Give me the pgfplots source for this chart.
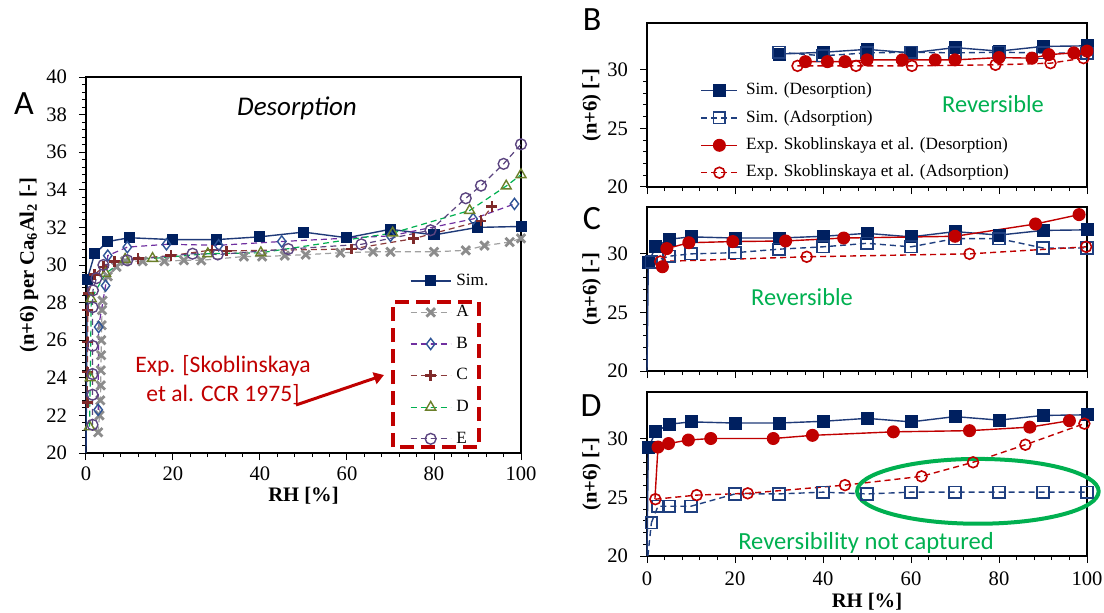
\documentclass[border=0pt]{standalone}
\usepackage{pgfplots}
\pgfplotsset{compat=1.18}
\usepackage{pgfplotstable}
\usepackage{fontspec}
\setmainfont{Liberation Serif}
\newfontfamily\calibri{Carlito}
\usetikzlibrary{arrows.meta}

\definecolor{navy}{HTML}{002060}
\definecolor{navyline}{HTML}{1F3A78}
\definecolor{openblue}{HTML}{1F3F7F}
\definecolor{expred}{HTML}{C00000}
\definecolor{mkA}{HTML}{8C8C8C}
\definecolor{lnA}{HTML}{A0A0A0}
\definecolor{mkB}{HTML}{2F5597}
\definecolor{lnB}{HTML}{7030A0}
\definecolor{mkC}{HTML}{7F2A2A}
\definecolor{lnC}{HTML}{8B3A3A}
\definecolor{mkD}{HTML}{6B7F2A}
\definecolor{lnD}{HTML}{00B050}
\definecolor{mkE}{HTML}{5C4580}
\definecolor{lnE}{HTML}{5C4580}
\definecolor{anngreen}{HTML}{00B050}

% ---------- data ----------
\pgfplotstableread{
x y
0.3 29.25
2 30.6
5 31.25
10 31.45
20 31.35
30 31.35
40 31.5
50 31.75
60 31.45
70 31.9
80 31.6
90 32.0
100 32.05
}\simdes

\pgfplotstableread{
x y
0 20
0.3 29.25
}\simdesfoot

\pgfplotstableread{
x y
30 31.35
40 31.5
50 31.75
60 31.45
70 31.9
80 31.6
90 32.0
100 32.05
}\simdesB

\pgfplotstableread{
x y
2.8 21.1
3.1 22.0
3.3 22.8
3.4 23.6
3.4 24.4
3.5 25.2
3.5 26.0
3.6 26.8
3.7 27.6
3.8 28.1
5 29.4
7 29.9
9 30.2
13 30.2
18 30.2
22.5 30.25
26.5 30.25
36.3 30.45
40.5 30.45
45.7 30.5
50.5 30.55
58.5 30.65
66 30.7
70 30.7
80 30.7
87.3 30.78
91.6 31.03
97.4 31.22
100 31.42
}\serA

\pgfplotstableread{
x y
2.8 22.3
2.9 26.7
4.5 28.9
5 30.5
9.5 30.95
18.5 31.1
30.5 31.05
45 31.25
70 31.55
89 32.45
98.5 33.25
}\serB

\pgfplotstableread{
x y
0.3 22.7
0.3 24.3
0.4 25.9
0.4 27.6
0.5 28.5
2 29.5
4 29.9
6.5 30.2
12 30.35
19.5 30.5
29 30.8
32.3 30.75
61 30.85
75.3 31.4
90.8 32.35
93.3 33.1
}\serC

\pgfplotstableread{
x y
0.8 21.4
1.0 24.0
1.2 28.2
4.5 29.55
9 30.3
15.3 30.35
28 30.6
40.2 30.65
70.5 31.7
88.2 32.9
96.6 34.2
100 34.8
}\serD

\pgfplotstableread{
x y
1.5 21.5
1.5 23.1
1.5 24.2
1.5 25.7
1.5 27.75
1.6 28.65
2.4 29.3
4 30.0
9.5 30.25
24.5 30.6
30.3 30.56
46.5 30.85
63.3 31.1
79.2 31.85
87.3 33.55
90.8 34.22
96 35.38
100 36.42
}\serE

\pgfplotstableread{
x y
30 31.5
40 31.2
50 31.45
60 31.5
70 31.45
80 31.5
90 31.45
100 31.4
}\simadsB

\pgfplotstableread{
x y
36 30.7
41 30.7
45 30.7
50 30.85
58 30.85
65.5 30.85
70 30.85
80 31.05
87.5 31.0
91.3 31.3
97 31.45
100 31.6
}\expdesB

\pgfplotstableread{
x y
34.2 30.34
47.5 30.34
60.2 30.34
79.2 30.43
91.7 30.57
99.2 31.0
}\expadsB

\pgfplotstableread{
x y
1 29.3
5 29.8
10 30.0
20 30.1
30 30.4
40 30.6
50 30.9
60 30.6
70 31.3
80 31.3
90 30.5
100 30.5
}\simadsC

\pgfplotstableread{
x y
3.5 28.9
4.5 30.45
9.5 30.95
19.5 31.05
31.5 31.1
44.7 31.35
70 31.5
88.3 32.55
98.2 33.35
}\expdesC

\pgfplotstableread{
x y
3 29.35
36.3 29.75
73.3 30.0
99.8 30.6
}\expadsC

\pgfplotstableread{
x y
1 22.85
2.5 24.25
5 24.25
10 24.25
20 25.3
30 25.3
40 25.45
50 25.3
60 25.45
70 25.45
80 25.45
90 25.45
100 25.45
}\simadsD

\pgfplotstableread{
x y
0.2 20
1 22.85
}\simadsDfoot

\pgfplotstableread{
x y
2.5 29.3
4.9 29.6
9.4 29.9
14.5 30.03
28.7 30.03
37.6 30.3
56 30.6
73.3 30.7
87 31.0
96 31.55
}\expdesD

\pgfplotstableread{
x y
1.8 24.85
2.5 29.3
}\expdesDfoot

\pgfplotstableread{
x y
1.9 24.85
11.3 25.2
22.9 25.35
45 26.05
62.4 26.8
74.1 28.0
86 29.5
99.4 31.3
}\expadsD

% ---------- styles ----------
\pgfplotsset{
  panel/.style={
    scale only axis, clip=false,
    xmin=0, xmax=100, xtick={0,20,...,100}, minor x tick num=4,
    axis line style={black, line width=0.6pt},
    tick style={black, line width=0.5pt},
    tick align=outside, xtick pos=lower, ytick pos=left,
    major tick length=3.5pt, minor tick length=2pt,
    tick label style={font=\fontsize{10.3}{12}\selectfont},
    yticklabel style={xshift=-2.5pt},
    /pgf/number format/assume math mode=true,
    legend style={draw=none, fill=none, inner sep=0pt, outer sep=0pt,
      font=\fontsize{8.6}{10}\selectfont, cells={anchor=west},
      nodes={inner sep=0pt, text height=6pt, text depth=1.8pt}},
  },
  smallpanel/.style={panel, width=220pt, height=82pt,
    ymin=20, ymax=34, ytick={20,25,30}, minor y tick num=4,
    every axis y label/.style={at={(rel axis cs:-0.1257,0.5)}, rotate=90, anchor=center, font=\fontsize{10.3}{12}\selectfont},
    ylabel={\textbf{(n+6) [-]}}},
  simdesS/.style={navyline, line width=0.7pt, solid, mark=square*, mark size=2.9pt, mark options={fill=navy, draw=navy, solid}},
  simadsS/.style={openblue, line width=0.7pt, dash pattern=on 3pt off 2pt, mark=square, mark size=2.9pt, mark options={fill=white, draw=openblue, solid, line width=0.8pt}},
  expdesS/.style={expred, line width=0.7pt, solid, mark=*, mark size=2.9pt, mark options={fill=expred, draw=expred, solid}},
  expadsS/.style={expred, line width=0.7pt, dash pattern=on 3pt off 2pt, mark=o, mark size=2.7pt, mark options={fill=white, draw=expred, solid, line width=0.8pt}},
}

\begin{document}
\begin{tikzpicture}
\useasboundingbox (0,0) rectangle (552pt,306pt);

% ================= Panel A =================
\begin{axis}[panel,
  at={(43pt,79.5pt)}, anchor=south west, width=217.5pt, height=188pt,
  ymin=20, ymax=40, ytick={20,22,...,40}, minor y tick num=4,
  xlabel={\textbf{RH [\%]}},
  ylabel={\textbf{(n+6) per Ca\textsubscript{6}Al\textsubscript{2} [-]}},
  every axis x label/.style={at={(rel axis cs:0.5,-0.1144)}, anchor=center, font=\fontsize{10.3}{12}\selectfont},
  every axis y label/.style={at={(rel axis cs:-0.131,0.5)}, rotate=90, anchor=center, font=\fontsize{10.3}{12}\selectfont},
  legend image code/.code={\draw[mark repeat=2,mark phase=2,#1] plot coordinates {(0pt,0pt) (10pt,0pt) (20pt,0pt)};},
  legend style={at={(0.7448,0.4787)}, anchor=north west, row sep=8pt, column sep=2.5pt},
]
\addplot[navyline, line width=0.7pt, forget plot] table {\simdesfoot};
\addplot[navyline, line width=0.7pt, mark=square*, mark size=2.4pt, mark options={fill=navy, draw=navy}] table {\simdes};
\addlegendentry{Sim.}
\addplot[lnA, line width=0.6pt, dash pattern=on 3pt off 2pt, mark=x, mark size=3pt, mark options={solid, draw=mkA, line width=1.4pt}] table {\serA};
\addlegendentry{A}
\addplot[lnB, line width=0.6pt, dash pattern=on 3pt off 2pt, mark=diamond, mark size=2.8pt, mark options={solid, draw=mkB, fill=white, line width=0.7pt}] table {\serB};
\addlegendentry{B}
\addplot[lnC, line width=0.6pt, dash pattern=on 3pt off 2pt, mark=+, mark size=2.7pt, mark options={solid, draw=mkC, line width=1.3pt}] table {\serC};
\addlegendentry{C}
\addplot[lnD, line width=0.6pt, dash pattern=on 3pt off 2pt, mark=triangle, mark size=2.9pt, mark options={solid, draw=mkD, fill=white, line width=0.7pt}] table {\serD};
\addlegendentry{D}
\addplot[lnE, line width=0.6pt, dash pattern=on 3pt off 2pt, mark=o, mark size=2.7pt, mark options={solid, draw=mkE, fill=white, line width=0.7pt}] table {\serE};
\addlegendentry{E}
\end{axis}

\node[font=\calibri\fontsize{17}{20}\selectfont] at (12pt,254pt) {A};
\node[font=\calibri\itshape\fontsize{13.5}{16}\selectfont] at (148.5pt,252pt) {Desorption};
\node[align=center, font=\calibri\fontsize{11.8}{14.5}\selectfont, text=expred] at (111.5pt,115.75pt) {Exp. [Skoblinskaya\\et al. CCR 1975]};
\draw[expred, line width=1.5pt, -{Triangle[length=5pt, width=6pt]}] (148pt,103.5pt) -- (192pt,118.5pt);
\draw[expred, line width=2pt, dash pattern=on 7pt off 3.5pt] (196.5pt,82.5pt) rectangle (239.5pt,155pt);

% ================= Panel B =================
\begin{axis}[smallpanel,
  at={(323.5pt,212.5pt)}, anchor=south west,
  xticklabels={},
  legend image code/.code={\draw[mark repeat=2,mark phase=2,#1] plot coordinates {(0pt,0pt) (9pt,0pt) (18pt,0pt)};},
  legend style={at={(0.122,0.636)}, anchor=north west, row sep=5.9pt, column sep=4pt},
]
\addplot[simdesS] table {\simdesB};
\addlegendentry{Sim. (Desorption)}
\addplot[simadsS] table {\simadsB};
\addlegendentry{Sim. (Adsorption)}
\addplot[expdesS] table {\expdesB};
\addlegendentry{Exp. Skoblinskaya et al. (Desorption)}
\addplot[expadsS] table {\expadsB};
\addlegendentry{Exp. Skoblinskaya et al. (Adsorption)}
\end{axis}
\node[font=\calibri\fontsize{17}{20}\selectfont] at (296pt,296pt) {B};
\node[font=\calibri\fontsize{12.2}{14}\selectfont, text=anngreen] at (496.5pt,254pt) {Reversible};

% ================= Panel C =================
\begin{axis}[smallpanel,
  at={(323.5pt,120.5pt)}, anchor=south west,
  xticklabels={},
]
\addplot[navyline, line width=0.7pt, forget plot] table {\simdesfoot};
\addplot[simdesS] table {\simdes};
\addplot[simadsS] table {\simadsC};
\addplot[expdesS] table {\expdesC};
\addplot[expadsS] table {\expadsC};
\end{axis}
\node[font=\calibri\fontsize{17}{20}\selectfont] at (296pt,196.5pt) {C};
\node[font=\calibri\fontsize{12.2}{14}\selectfont, text=anngreen] at (401pt,157.5pt) {Reversible};

% ================= Panel D =================
\begin{axis}[smallpanel,
  at={(323.5pt,28pt)}, anchor=south west,
  xlabel={\textbf{RH [\%]}},
  xticklabel style={yshift=-1pt},
  every axis x label/.style={at={(rel axis cs:0.5,-0.2805)}, anchor=center, font=\fontsize{10.3}{12}\selectfont},
]
\addplot[navyline, line width=0.7pt, forget plot] table {\simdesfoot};
\addplot[simdesS] table {\simdes};
\addplot[openblue, line width=0.7pt, dash pattern=on 3pt off 2pt, forget plot] table {\simadsDfoot};
\addplot[simadsS] table {\simadsD};
\addplot[expred, line width=0.7pt, forget plot] table {\expdesDfoot};
\addplot[expdesS] table {\expdesD};
\addplot[expadsS] table {\expadsD};
\draw[anngreen, line width=2pt] (axis cs:75.2,25.52) ellipse [x radius=60.4pt, y radius=16.2pt];
\end{axis}
\node[font=\calibri\fontsize{17}{20}\selectfont] at (295.5pt,103pt) {D};
\node[font=\calibri\fontsize{12.3}{14}\selectfont, text=anngreen] at (433pt,34.5pt) {Reversibility not captured};

\end{tikzpicture}
\end{document}
